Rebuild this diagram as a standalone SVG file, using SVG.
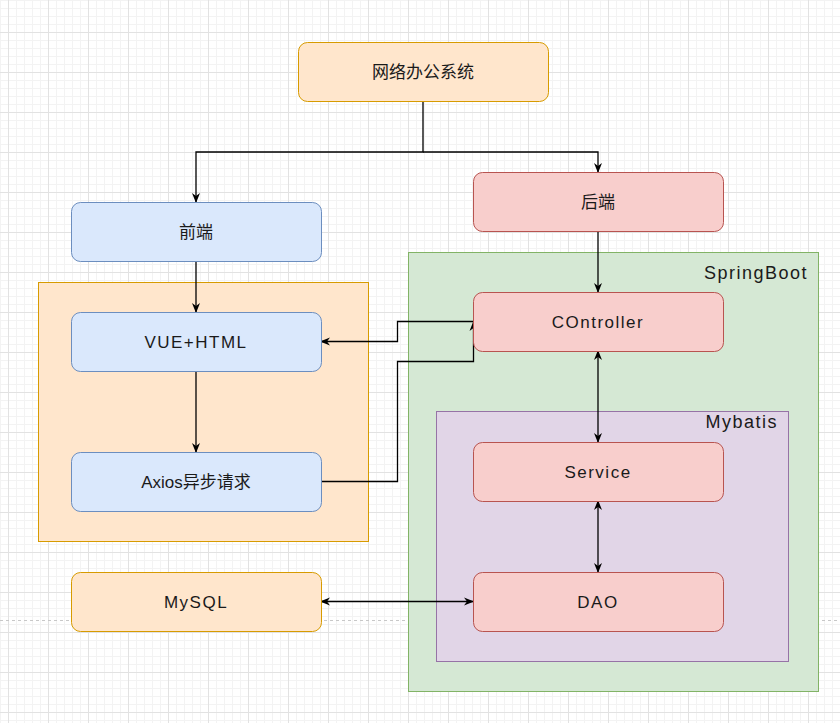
<svg xmlns="http://www.w3.org/2000/svg" width="840" height="723" viewBox="0 0 840 723">
<defs>
<pattern id="grid" patternUnits="userSpaceOnUse" x="0" y="0" width="40" height="40" patternTransform="translate(8,32)">
<rect width="40" height="40" fill="#ffffff"/>
<rect x="8" y="0" width="1" height="40" fill="#f3f3f3"/>
<rect x="16" y="0" width="1" height="40" fill="#f3f3f3"/>
<rect x="24" y="0" width="1" height="40" fill="#f3f3f3"/>
<rect x="32" y="0" width="1" height="40" fill="#f3f3f3"/>
<rect x="0" y="8" width="40" height="1" fill="#f3f3f3"/>
<rect x="0" y="16" width="40" height="1" fill="#f3f3f3"/>
<rect x="0" y="24" width="40" height="1" fill="#f3f3f3"/>
<rect x="0" y="32" width="40" height="1" fill="#f3f3f3"/>
<rect x="0" y="0" width="1" height="40" fill="#e2e2e2"/>
<rect x="0" y="0" width="40" height="1" fill="#e2e2e2"/>
</pattern>
<marker id="arr" viewBox="0 0 10 10" refX="9" refY="5" markerWidth="10" markerHeight="10" markerUnits="userSpaceOnUse" orient="auto-start-reverse">
<path d="M0,1 L10,5 L0,9 L3,5 Z" fill="#000"/>
</marker>
<style>
.n text{font-family:"Liberation Sans","Noto Sans CJK SC",sans-serif;font-size:17px;fill:#1a1a1a;text-anchor:middle;dominant-baseline:central}
.n text.lat{letter-spacing:1.5px}
.orange{fill:#ffe6cc;stroke:#d79b00}
.blue{fill:#dae8fc;stroke:#6c8ebf}
.red{fill:#f8cecc;stroke:#b85450}
.green{fill:#d5e8d4;stroke:#82b366}
.purple{fill:#e1d5e7;stroke:#9673a6}
.lbl{font-family:"Liberation Sans",sans-serif;font-size:18px;letter-spacing:1.5px;fill:#1a1a1a;text-anchor:end;dominant-baseline:central}
#edges path{fill:none;stroke:#000;stroke-width:1.3}
</style>
</defs>
<rect width="840" height="723" fill="url(#grid)"/>
<line x1="0" y1="620.5" x2="840" y2="620.5" stroke="#c8c8c8" stroke-dasharray="3,3"/>

<g id="frontend-container"><rect class="orange" x="38.5" y="282.5" width="330" height="259"/></g>
<g id="springboot"><rect class="green" x="408.5" y="252.5" width="410" height="439"/><text class="lbl" x="808" y="273">SpringBoot</text></g>
<g id="mybatis"><rect class="purple" x="436.5" y="411.5" width="352" height="250"/><text class="lbl" x="778" y="422">Mybatis</text></g>

<g id="edges">
<path d="M423,101 V152 H196 V202" marker-end="url(#arr)"/>
<path d="M423,152 H598 V172" marker-end="url(#arr)"/>
<path d="M196,261 V312" marker-end="url(#arr)"/>
<path d="M598,231 V292" marker-end="url(#arr)"/>
<path d="M196,371 V452" marker-end="url(#arr)"/>
<path d="M473,321.5 H397.5 V341.5 H321" marker-end="url(#arr)"/>
<path d="M321,481.5 H397.5 V361.5 H473.5 V322" marker-end="url(#arr)"/>
<path d="M598,351 V442" marker-start="url(#arr)" marker-end="url(#arr)"/>
<path d="M598,501 V572" marker-start="url(#arr)" marker-end="url(#arr)"/>
<path d="M321,601.5 H473" marker-start="url(#arr)" marker-end="url(#arr)"/>
</g>

<g id="system" class="n"><rect class="orange" x="298.5" y="42.5" width="250" height="59" rx="9"/><text x="423" y="72">网络办公系统</text></g>
<g id="backend" class="n"><rect class="red" x="473.5" y="172.5" width="250" height="59" rx="9"/><text x="598" y="202">后端</text></g>
<g id="frontend" class="n"><rect class="blue" x="71.5" y="202.5" width="250" height="59" rx="9"/><text x="196" y="232">前端</text></g>
<g id="vue" class="n"><rect class="blue" x="71.5" y="312.5" width="250" height="59" rx="9"/><text class="lat" x="196" y="342">VUE+HTML</text></g>
<g id="axios" class="n"><rect class="blue" x="71.5" y="452.5" width="250" height="59" rx="9"/><text x="196" y="482">Axios异步请求</text></g>
<g id="controller" class="n"><rect class="red" x="473.5" y="292.5" width="250" height="59" rx="9"/><text class="lat" x="598" y="322">COntroller</text></g>
<g id="service" class="n"><rect class="red" x="473.5" y="442.5" width="250" height="59" rx="9"/><text class="lat" x="598" y="472">Service</text></g>
<g id="dao" class="n"><rect class="red" x="473.5" y="572.5" width="250" height="59" rx="9"/><text class="lat" x="598" y="602">DAO</text></g>
<g id="mysql" class="n"><rect class="orange" x="71.5" y="572.5" width="250" height="59" rx="9"/><text class="lat" x="196" y="602">MySQL</text></g>
</svg>
